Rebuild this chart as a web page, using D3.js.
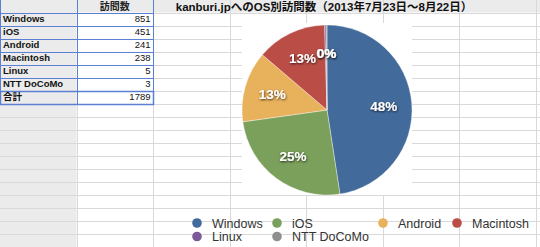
<!DOCTYPE html>
<html>
<head>
<meta charset="utf-8">
<script src="https://cdn.jsdelivr.net/npm/d3@7"></script>
<style>
  body { margin: 0; background: #fff; }
  svg { display: block; }
</style>
</head>
<body>
<div class="canvas"></div>
<script>
// data
const categories = ['Windows', 'iOS', 'Android', 'Macintosh', 'Linux', 'NTT DoCoMo'];
const visits = [851, 451, 241, 238, 5, 3];
const totalLabel = '合計';
const headerLabel = '訪問数';
const title = 'kanburi.jpへのOS別訪問数（2013年7月23日〜8月22日）';

const dims = { width: 540, height: 247, colW: 76.5, headH: 12.5, rowH: 13.05, radius: 85 };
const cent = { x: 327, y: 110 };

const colour = d3.scaleOrdinal()
    .domain(categories)
    .range(['#426a9b', '#7ba05b', '#e8b15c', '#bb4d47', '#7a5a97', '#8f8f8f']);

const svg = d3.select('.canvas')
    .append('svg')
    .attr('width', dims.width)
    .attr('height', dims.height);

const defs = svg.append('defs');
defs.append('filter')
    .attr('id', 'shadow')
    .attr('x', '-30%').attr('y', '-30%').attr('width', '160%').attr('height', '160%')
    .append('feDropShadow')
    .attr('dx', 0.5).attr('dy', 1).attr('stdDeviation', 0.8)
    .attr('flood-color', '#000').attr('flood-opacity', 0.75);

// spreadsheet grid
const sheet = svg.append('g');
const nRows = Math.ceil((dims.height - dims.headH) / dims.rowH) + 1;
const nCols = Math.ceil(dims.width / dims.colW) + 1;

sheet.append('rect').attr('width', dims.colW).attr('height', dims.height).attr('fill', '#ebebeb');
sheet.append('rect').attr('width', dims.width).attr('height', dims.headH).attr('fill', '#ebebeb');

const rowY = d3.range(nRows).map(i => dims.headH + i * dims.rowH);
const colX = d3.range(1, nCols).map(i => i * dims.colW);

sheet.selectAll('.hline').data(rowY).enter()
    .append('line')
    .attr('x1', 0).attr('x2', dims.width)
    .attr('y1', d => Math.round(d) + 0.5).attr('y2', d => Math.round(d) + 0.5)
    .attr('stroke', '#d9d9d9');

sheet.selectAll('.vline').data(colX).enter()
    .append('line')
    .attr('y1', 0).attr('y2', dims.height)
    .attr('x1', d => Math.round(d) + 0.5).attr('x2', d => Math.round(d) + 0.5)
    .attr('stroke', '#d9d9d9');

// table (blue borders)
const tableRows = categories.length + 1;
const blue = '#5b7fd2';
const tableBottom = dims.headH + tableRows * dims.rowH;
d3.range(tableRows + 1).forEach(i => {
    const y = Math.round(dims.headH + i * dims.rowH) + 0.5;
    sheet.append('line').attr('x1', 0).attr('x2', 2 * dims.colW).attr('y1', y).attr('y2', y)
        .attr('stroke', blue);
});
[0.5, Math.round(dims.colW) + 0.5, Math.round(2 * dims.colW) + 0.5].forEach(x => {
    sheet.append('line').attr('x1', x).attr('x2', x).attr('y1', 0).attr('y2', Math.round(tableBottom) + 0.5)
        .attr('stroke', blue);
});
// selected total row
sheet.append('rect')
    .attr('x', 0.5).attr('y', Math.round(dims.headH + categories.length * dims.rowH) + 0.5)
    .attr('width', Math.round(2 * dims.colW)).attr('height', Math.round(dims.rowH))
    .attr('fill', 'none').attr('stroke', blue).attr('stroke-width', 1.5);

const cellFont = '"Liberation Sans", Arial, "Noto Sans CJK JP", sans-serif';
sheet.append('text')
    .attr('x', dims.colW * 1.5).attr('y', dims.headH - 2.5)
    .attr('text-anchor', 'middle')
    .style('font', `bold 10px ${cellFont}`)
    .attr('fill', '#222')
    .text(headerLabel);

const tableData = categories.map((c, i) => ({ name: c, value: visits[i] }))
    .concat([{ name: totalLabel, value: d3.sum(visits) }]);

const rowsG = sheet.selectAll('.row').data(tableData).enter()
    .append('g')
    .attr('transform', (d, i) => `translate(0, ${dims.headH + (i + 1) * dims.rowH - 3.5})`);
rowsG.append('text')
    .attr('x', 3)
    .style('font', `bold 9.5px ${cellFont}`)
    .attr('fill', '#111')
    .text(d => d.name);
rowsG.append('text')
    .attr('x', 2 * dims.colW - 2.5)
    .attr('text-anchor', 'end')
    .style('font', `9.5px ${cellFont}`)
    .attr('fill', '#111')
    .text(d => d.value);

// chart
svg.append('text')
    .attr('x', 324).attr('y', 11)
    .attr('text-anchor', 'middle')
    .style('font', 'bold 11.5px "Liberation Sans", Arial, "Noto Sans CJK JP", sans-serif')
    .attr('fill', '#111')
    .text(title);

svg.append('rect')
    .attr('x', cent.x - dims.radius).attr('y', cent.y - dims.radius - 2)
    .attr('width', dims.radius * 2).attr('height', dims.radius * 2 + 2)
    .attr('fill', '#fff');

const graph = svg.append('g')
    .attr('transform', `translate(${cent.x}, ${cent.y})`);

const pie = d3.pie().sort(null).value(d => d.value);
const pieData = pie(categories.map((c, i) => ({ name: c, value: visits[i] })));
const total = d3.sum(visits);

const arc = d3.arc().innerRadius(0).outerRadius(dims.radius);
const labelArc = d3.arc().innerRadius(57).outerRadius(57);
const pct = d3.format('.0%');

graph.selectAll('.slice').data(pieData).enter()
    .append('path')
    .attr('class', 'slice')
    .attr('d', arc)
    .attr('fill', d => colour(d.data.name))
    .attr('stroke', 'rgba(255,255,255,0.6)')
    .attr('stroke-width', 0.6);

graph.selectAll('.pct').data(pieData).enter()
    .append('text')
    .attr('class', 'pct')
    .attr('transform', d => `translate(${labelArc.centroid(d)})`)
    .attr('text-anchor', 'middle')
    .attr('dy', '0.36em')
    .attr('filter', 'url(#shadow)')
    .style('font', 'bold 13.5px "Liberation Sans", Arial, sans-serif')
    .attr('fill', '#fff')
    .text(d => pct(d.data.value / total));

// legend
const legendCols = [197, 277, 383, 457];
const legendRows = [223, 236.5];
const legend = svg.selectAll('.legend').data(categories).enter()
    .append('g')
    .attr('transform', (d, i) => `translate(${legendCols[i % 4]}, ${legendRows[Math.floor(i / 4)]})`);
legend.append('circle')
    .attr('r', 4.8)
    .attr('fill', d => colour(d));
legend.append('text')
    .attr('x', 15).attr('dy', '0.36em')
    .style('font', '12.5px "Liberation Sans", Arial, sans-serif')
    .attr('fill', '#333')
    .text(d => d);
</script>
</body>
</html>
